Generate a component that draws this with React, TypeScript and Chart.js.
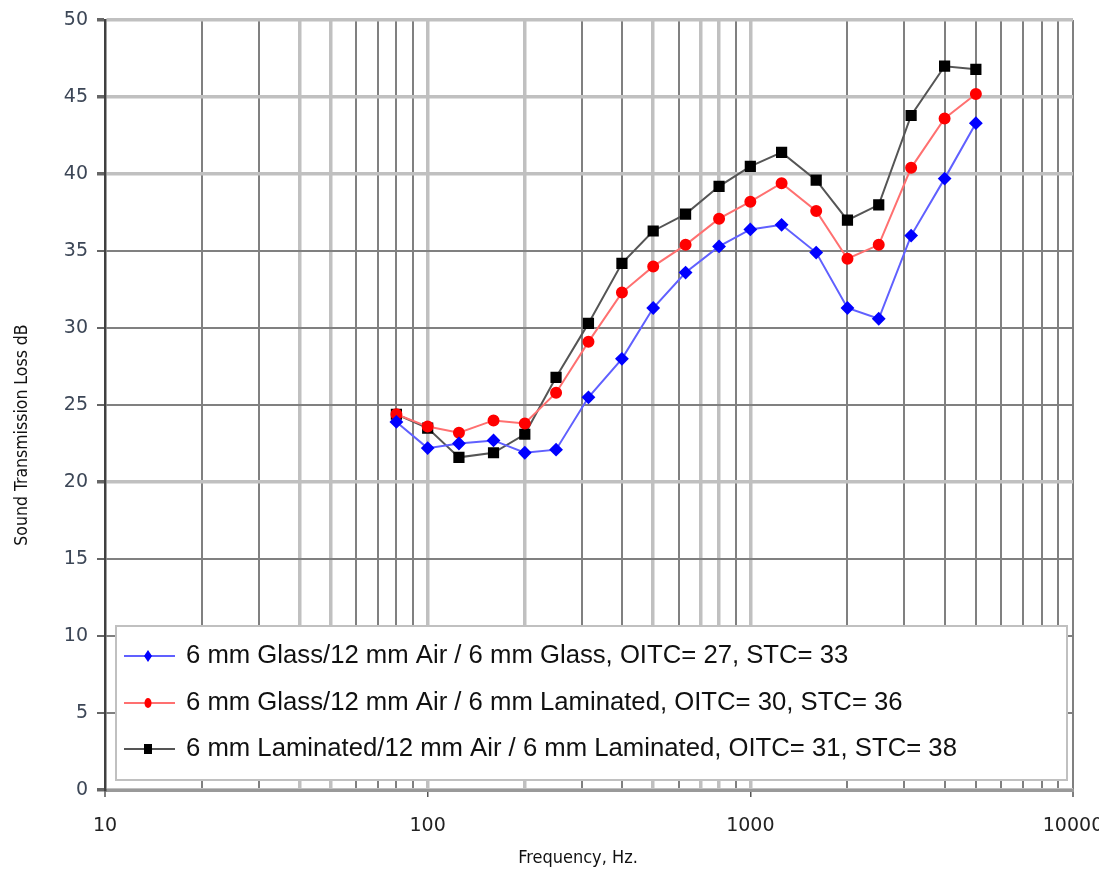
import React, { useEffect, useRef } from "react";
import { Chart, registerables } from "chart.js";

Chart.register(...registerables);

const frequencies = [80, 100, 125, 160, 200, 250, 315, 400, 500, 630, 800, 1000, 1250, 1600, 2000, 2500, 3150, 4000, 5000];
const glassGlass = [23.9, 22.2, 22.5, 22.7, 21.9, 22.1, 25.5, 28.0, 31.3, 33.6, 35.3, 36.4, 36.7, 34.9, 31.3, 30.6, 36.0, 39.7, 43.3];
const glassLaminated = [24.4, 23.6, 23.2, 24.0, 23.8, 25.8, 29.1, 32.3, 34.0, 35.4, 37.1, 38.2, 39.4, 37.6, 34.5, 35.4, 40.4, 43.6, 45.2];
const laminatedLaminated = [24.4, 23.5, 21.6, 21.9, 23.1, 26.8, 30.3, 34.2, 36.3, 37.4, 39.2, 40.5, 41.4, 39.6, 37.0, 38.0, 43.8, 47.0, 46.8];

const seriesLabels = [
  "6 mm Glass/12 mm Air / 6 mm Glass, OITC= 27, STC= 33",
  "6 mm Glass/12 mm Air / 6 mm Laminated, OITC= 30, STC= 36",
  "6 mm Laminated/12 mm Air / 6 mm Laminated, OITC= 31, STC= 38",
];
const xTitle = "Frequency, Hz.";
const yTitle = "Sound Transmission Loss dB";

const xTickValues = [10, 20, 30, 40, 50, 60, 70, 80, 90, 100, 200, 300, 400, 500, 600, 700, 800, 900, 1000, 2000, 3000, 4000, 5000, 6000, 7000, 8000, 9000, 10000];
const xMajorTicks = [10, 100, 1000, 10000];
const xLightGrid = [40, 50, 100, 200, 500, 700, 800, 1000];
const yLightGrid = [0, 20, 40, 45, 50];

const DARK = "#808080";
const LIGHT = "#c0c0c0";

const legendPlugin = {
  id: "boxLegend",
  afterDatasetsDraw(chart: any) {
    const { ctx, chartArea } = chart;
    const left = chartArea.left + 11;
    const right = chartArea.right - 6;
    const bottom = chartArea.bottom - 10;
    const top = chartArea.bottom - 164;
    ctx.save();
    ctx.fillStyle = "#ffffff";
    ctx.fillRect(left, top, right - left, bottom - top);
    ctx.strokeStyle = LIGHT;
    ctx.lineWidth = 2;
    ctx.strokeRect(left, top, right - left, bottom - top);
    const rows = [30, 77, 123];
    chart.data.datasets.forEach((ds: any, i: number) => {
      const y = top + rows[i];
      ctx.strokeStyle = ds.borderColor;
      ctx.lineWidth = 2;
      ctx.beginPath();
      ctx.moveTo(left + 8, y);
      ctx.lineTo(left + 59, y);
      ctx.stroke();
      ctx.fillStyle = ds.pointBackgroundColor;
      const cx = left + 32;
      if (ds.pointStyle === "rectRot") {
        ctx.beginPath();
        ctx.moveTo(cx, y - 6);
        ctx.lineTo(cx + 4, y);
        ctx.lineTo(cx, y + 6);
        ctx.lineTo(cx - 4, y);
        ctx.closePath();
        ctx.fill();
      } else if (ds.pointStyle === "circle") {
        ctx.beginPath();
        ctx.ellipse(cx, y, 3.5, 5, 0, 0, Math.PI * 2);
        ctx.fill();
      } else {
        ctx.fillRect(cx - 4, y - 5, 8, 10);
      }
      ctx.fillStyle = "#111111";
      ctx.font = "25.7px 'Liberation Sans', Arial, sans-serif";
      ctx.textBaseline = "middle";
      ctx.textAlign = "left";
      ctx.fillText(ds.label, left + 70, y);
    });
    ctx.restore();
  },
  afterDraw(chart: any) {
    const { ctx, chartArea } = chart;
    ctx.save();
    ctx.fillStyle = "#111111";
    ctx.textAlign = "center";
    ctx.textBaseline = "middle";
    ctx.font = "18px 'DejaVu Sans Condensed', 'DejaVu Sans', sans-serif";
    ctx.fillText(xTitle, chartArea.left + 473, chartArea.bottom + 68);
    ctx.translate(chartArea.left - 83, chartArea.top + 415);
    ctx.rotate(-Math.PI / 2);
    ctx.font = "17.5px 'DejaVu Sans Condensed', 'DejaVu Sans', sans-serif";
    ctx.fillText(yTitle, 0, 0);
    ctx.restore();
  },
};

export default function App() {
  const ref = useRef<HTMLCanvasElement | null>(null);

  useEffect(() => {
    if (!ref.current) return;
    const toPoints = (vals: number[]) => frequencies.map((f, i) => ({ x: f, y: vals[i] }));
    const chart = new Chart(ref.current, {
      type: "line",
      data: {
        datasets: [
          {
            label: seriesLabels[0],
            data: toPoints(glassGlass),
            borderColor: "#6060ff",
            backgroundColor: "#0000ff",
            pointBackgroundColor: "#0000ff",
            pointBorderColor: "#0000ff",
            pointStyle: "rectRot",
            pointRadius: 5.5,
            borderWidth: 2,
          },
          {
            label: seriesLabels[1],
            data: toPoints(glassLaminated),
            borderColor: "#ff7070",
            backgroundColor: "#ff0000",
            pointBackgroundColor: "#ff0000",
            pointBorderColor: "#ff0000",
            pointStyle: "circle",
            pointRadius: 5,
            borderWidth: 2,
          },
          {
            label: seriesLabels[2],
            data: toPoints(laminatedLaminated),
            borderColor: "#555555",
            backgroundColor: "#000000",
            pointBackgroundColor: "#000000",
            pointBorderColor: "#000000",
            pointStyle: "rect",
            pointRadius: 6.5,
            borderWidth: 2,
          },
        ],
      },
      options: {
        responsive: false,
        animation: false,
        layout: { padding: { top: 12, right: 26, left: 0, bottom: 0 } },
        plugins: {
          legend: { display: false },
          tooltip: { enabled: false },
        },
        scales: {
          x: {
            type: "logarithmic",
            min: 10,
            max: 10000,
            afterBuildTicks: (scale: any) => {
              scale.ticks = xTickValues.map((v) => ({ value: v }));
            },
            afterFit: (scale: any) => {
              scale.height = 78;
              scale.paddingLeft = 0;
              scale.paddingRight = 0;
            },
            ticks: {
              autoSkip: false,
              maxRotation: 0,
              padding: 18,
              color: "#222222",
              font: { family: "'DejaVu Sans', sans-serif", size: 19 },
              callback: (v: any) => (xMajorTicks.includes(Number(v)) ? String(v) : ""),
            },
            grid: {
              color: (c: any) => (xLightGrid.includes(c.tick?.value) ? LIGHT : DARK),
              lineWidth: (c: any) => (xLightGrid.includes(c.tick?.value) ? 3.5 : 2),
              tickColor: (c: any) => (xMajorTicks.includes(c.tick?.value) ? "#555555" : "rgba(0,0,0,0)"),
              tickWidth: 1.5,
              tickLength: 7,
            },
            border: { display: true, color: "#999999", width: 3 },
            title: { display: false },
          },
          y: {
            min: 0,
            max: 50,
            afterFit: (scale: any) => {
              scale.width = 97;
              scale.paddingTop = 0;
              scale.paddingBottom = 0;
            },
            ticks: {
              stepSize: 5,
              padding: 9,
              color: "#3c4656",
              font: { family: "'DejaVu Sans', sans-serif", size: 19 },
            },
            grid: {
              color: (c: any) => (yLightGrid.includes(c.tick?.value) ? LIGHT : DARK),
              lineWidth: (c: any) => (yLightGrid.includes(c.tick?.value) ? 3.5 : 2),
              tickColor: "#666666",
              tickLength: 8,
            },
            border: { display: true, color: "#404040", width: 2.5 },
            title: { display: false },
          },
        },
      },
      plugins: [legendPlugin],
    } as any);
    return () => chart.destroy();
  }, []);

  return (
    <div style={{ width: 1091, height: 860 }}>
      <canvas ref={ref} width={1091} height={860} style={{ display: "block" }} />
    </div>
  );
}
